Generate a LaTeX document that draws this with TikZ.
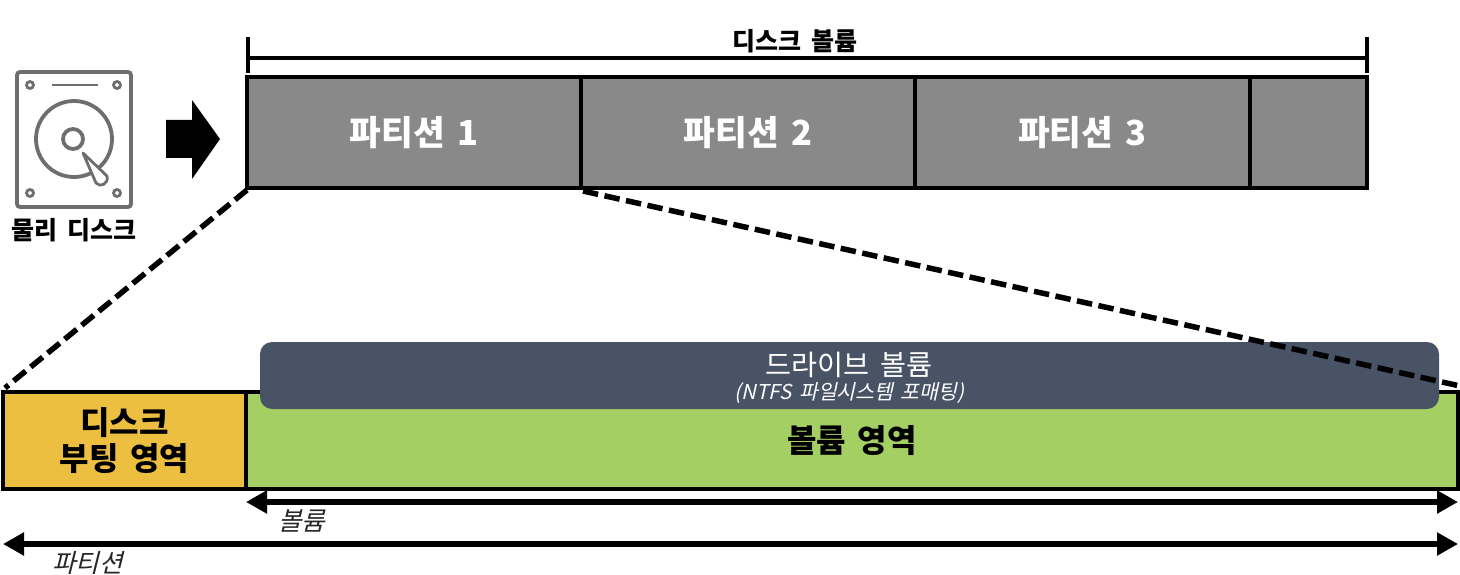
\documentclass[tikz,border=0pt]{standalone}
\usepackage{fontspec}
\setmainfont[WordSpace=1.6]{Noto Sans CJK KR}
\usetikzlibrary{arrows.meta,calc}
\definecolor{partgray}{HTML}{898989}
\definecolor{bootyellow}{HTML}{EDBF41}
\definecolor{volgreen}{HTML}{A4CF63}
\definecolor{drvblue}{HTML}{495366}
\definecolor{iconline}{HTML}{6E6E6E}
\tikzset{
  x=1pt,y=-1pt,
  cell/.style={draw=black,line width=4pt,inner sep=0pt,outer sep=0pt,anchor=north west},
  part/.style={cell,fill=partgray,text=white,minimum height=111pt,font=\fontsize{34.5}{40}\selectfont\bfseries},
  zoomline/.style={line width=5.5pt,dash pattern=on 15.5pt off 6.5pt},
  span/.style={line width=6pt,{Triangle[length=21pt,width=22pt]}-{Triangle[length=21pt,width=22pt]}},
  ic/.style={draw=iconline,line width=3.8pt},
  icthin/.style={draw=iconline,line width=2.8pt},
  lab/.style={font=\fontsize{25}{30}\selectfont\bfseries,inner sep=0pt},
  ital/.style={text=black!85,font=\fontsize{25.5}{30}\selectfont,inner sep=0pt,xslant=0.25}
}
\begin{document}
\begin{tikzpicture}
\useasboundingbox (0,0) rectangle (1460,575);
% top row
\node[part,minimum width=334pt] (p1) at (247,77) {\raisebox{-3pt}{파티션 1}};
\node[part,minimum width=334pt] (p2) at (581,77) {\raisebox{-3pt}{파티션 2}};
\node[part,minimum width=335pt] (p3) at (915,77) {\raisebox{-3pt}{파티션 3}};
\node[part,minimum width=117pt] (p4) at (1250,77) {};
% volume bracket
\coordinate (bl) at (248,58);
\coordinate (br) at (1367,58);
\draw[line width=4.5pt] (bl) -- (br);
\draw[line width=4.5pt] ($(bl)+(0,-21)$) -- ($(bl)+(0,15)$);
\draw[line width=4.5pt] ($(br)+(0,-21)$) -- ($(br)+(0,15)$);
\node[lab] (dv) at (795,41) {디스크 볼륨};
% physical disk icon
\draw[ic,rounded corners=3pt] (17,72) rectangle (131,207);
\draw[icthin] (52,85) -- (98,85);
\draw[icthin] (30,85) circle (3.5);
\draw[icthin] (117,85) circle (3.5);
\draw[icthin] (30,193) circle (3.5);
\draw[icthin] (117,193) circle (3.5);
\draw[ic] (74,139) circle (38);
\draw[ic] (73,139) circle (10);
\draw[icthin,fill=white,line join=round] (83,153) -- (107,176)
  .. controls (109,184) and (100,188) .. (96,183) -- cycle;
\node[lab] (pd) at (74,230) {물리 디스크};
% block arrow
\fill[black] (166,120) -- (192,120) -- (192,100) -- (220,139) -- (192,179) -- (192,158) -- (166,158) -- cycle;
% lower row
\node[cell,fill=bootyellow,minimum width=243pt,minimum height=97pt,align=center,font=\fontsize{32}{37}\selectfont\bfseries] (boot) at (3,392) {디스크\\[-1pt]부팅 영역};
\node[cell,fill=volgreen,minimum width=1212pt,minimum height=97pt,font=\fontsize{32}{37}\selectfont\bfseries] (vol) at (246,392) {\raisebox{-4pt}{볼륨 영역}};
% drive volume
\node[anchor=north west,fill=drvblue,rounded corners=12pt,minimum width=1179pt,minimum height=67pt,inner sep=0pt,outer sep=0pt] (drv) at (260,342) {};
\node[text=white,font=\fontsize{28.3}{32}\selectfont,inner sep=0pt] (drvt) at (849,365) {드라이브 볼륨};
\node[text=white,font=\fontsize{20.5}{24}\selectfont,inner sep=0pt,xslant=0.22] (drvs) at (851,393) {(NTFS 파일시스템 포매팅)};
% dashed zoom lines
\draw[zoomline] ($(p1.south west)+(0,2)$) -- ($(boot.north west)+(2,-4)$);
\draw[zoomline] ($(p2.south west)+(2,3)$) -- ($(vol.north east)+(2,-6)$);
% span arrows
\coordinate (vl) at (246,502);
\coordinate (vr) at (1458,502);
\coordinate (pl) at (3,544);
\coordinate (pr) at (1458,544);
\draw[span] (vl) -- (vr);
\draw[span] (pl) -- (pr);
\node[ital] (vt) at (304,521) {볼륨};
\node[ital] (pt) at (90,563) {파티션};
\end{tikzpicture}
\end{document}
